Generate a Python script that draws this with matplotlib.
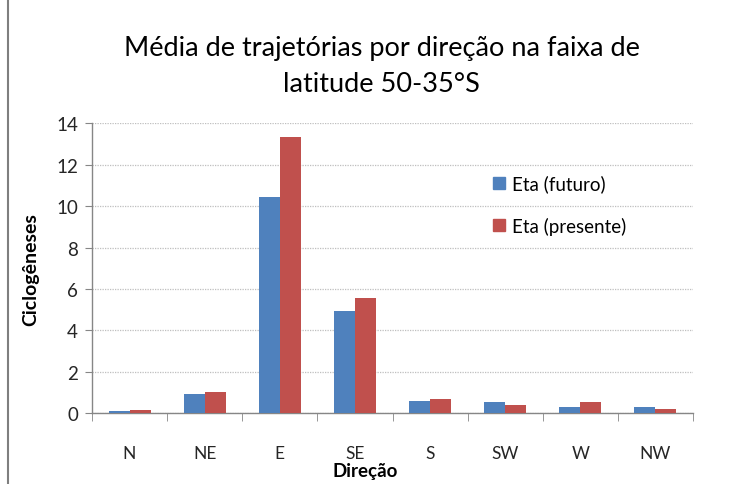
import matplotlib
matplotlib.use("Agg")
import matplotlib.pyplot as plt
import numpy as np
from matplotlib.lines import Line2D

# data
directions = ["N", "NE", "E", "SE", "S", "SW", "W", "NW"]
eta_futuro = [0.10, 0.95, 10.45, 4.94, 0.59, 0.54, 0.29, 0.29]
eta_presente = [0.15, 1.03, 13.35, 5.57, 0.69, 0.39, 0.54, 0.20]
series_names = ["Eta (futuro)", "Eta (presente)"]
yticks = [0, 2, 4, 6, 8, 10, 12, 14]

BLUE = "#4F81BD"
RED = "#C0504D"
GRID = "#BFBFBF"
AXIS = "#868686"

plt.rcParams["font.family"] = ["Lato", "DejaVu Sans"]

fig = plt.figure(figsize=(7.51, 4.85), dpi=100)
ax = fig.add_axes([92 / 751, 1 - 414.3 / 485, 601 / 751, 290 / 485])

x = np.arange(len(directions))
w = 0.28
ax.bar(x - w / 2, eta_futuro, width=w, color=BLUE, zorder=3)
ax.bar(x + w / 2, eta_presente, width=w, color=RED, zorder=3)

ax.set_xlim(-0.5, len(directions) - 0.5)
ax.set_ylim(0, 14)
ax.set_yticks(yticks)
ax.set_yticklabels([str(v) for v in yticks], fontsize=13.5, color="#262626")
ax.yaxis.grid(True, color=GRID, linestyle=(0, (1, 1)), linewidth=0.9, zorder=0)

# category labels in the middle, ticks on boundaries
ax.set_xticks(x)
ax.set_xticklabels(directions, fontsize=12.5, color="#262626")
ax.tick_params(axis="x", which="major", length=0, pad=23)
ax.set_xticks(np.arange(-0.5, len(directions)), minor=True)
ax.tick_params(axis="x", which="minor", length=6, color=AXIS, direction="out")
ax.tick_params(axis="y", length=5, color=AXIS, direction="out", pad=5)

for side in ["top", "right"]:
    ax.spines[side].set_visible(False)
for side in ["left", "bottom"]:
    ax.spines[side].set_color(AXIS)
    ax.spines[side].set_linewidth(1.0)

ax.set_ylabel("Ciclogêneses", fontsize=14, fontweight="bold")
ax.yaxis.set_label_coords((39 - 92) / 601, 0.5)
ax.set_xlabel("Direção", fontsize=13.5, fontweight="bold")
ax.xaxis.set_label_coords(0.455, -(463 - 414.3) / 290)

fig.text(0.508, 1 - 67 / 485, "Média de trajetórias por direção na faixa de\nlatitude 50-35°S",
         ha="center", va="center", fontsize=19.5, linespacing=1.55)

handles = [Line2D([], [], marker="s", linestyle="none", markersize=8, color=c) for c in (BLUE, RED)]
ax.legend(handles, series_names, loc="upper left", bbox_to_anchor=(480 / 751, 1 - 166 / 485),
          bbox_transform=fig.transFigure, frameon=False, fontsize=13.5, labelspacing=1.3,
          handletextpad=0.2, handlelength=1.0, borderpad=0)

# chart frame on the left edge
fig.add_artist(Line2D([8 / 751, 8 / 751], [0, 1], color="#7F7F7F", linewidth=1.5, transform=fig.transFigure))

fig.savefig("out.png", dpi=100)
